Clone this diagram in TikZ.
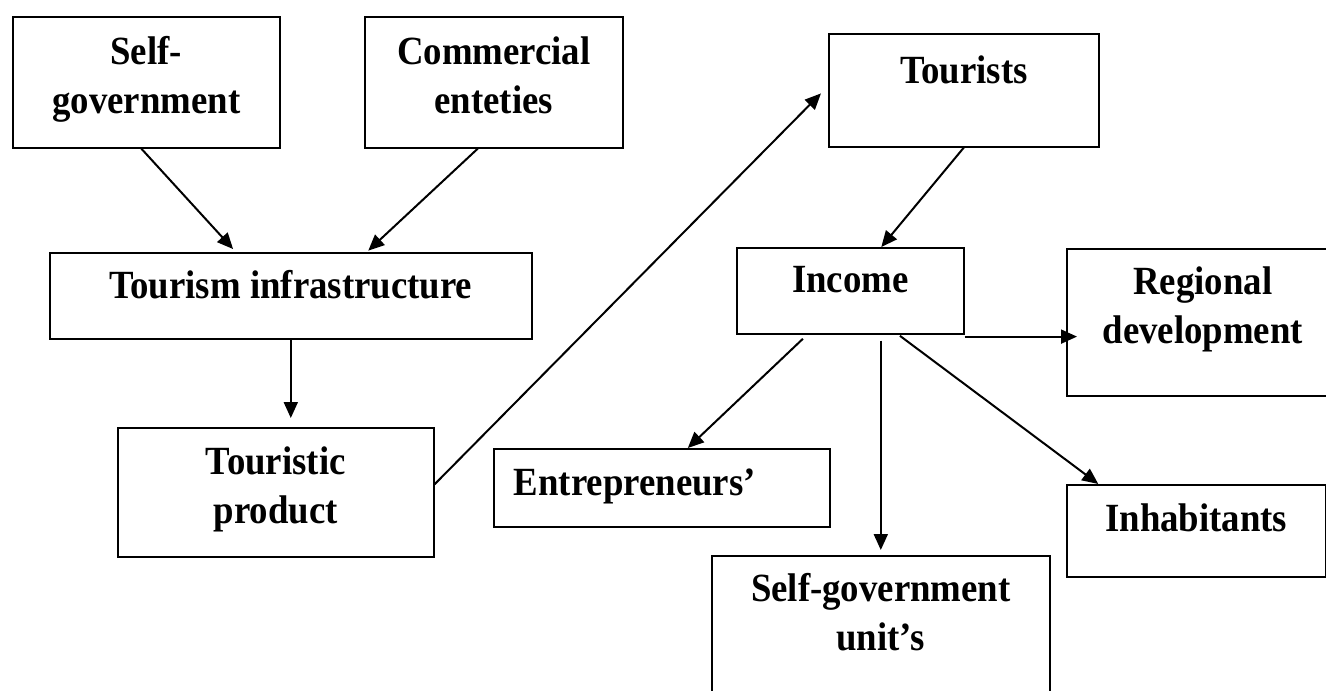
\documentclass[tikz,border=0pt]{standalone}
\usepackage{fontspec}
\setmainfont{Liberation Serif}[FakeStretch=0.92]
\usetikzlibrary{arrows.meta}

% box text: width, height, top pad, text
\newcommand{\cellbox}[4]{\parbox[c][#2pt][t]{#1pt}{\centering\vspace*{#3pt}#4}}

\begin{document}
\begin{tikzpicture}[x=1pt,y=-1pt]
%style for boxes
\tikzstyle{cell} = [rectangle, draw=black, line width=1.6pt, inner sep=0pt, anchor=north west, font=\fontsize{40}{49}\selectfont\bfseries]

%style for arrows
\tikzstyle{link} = [-{Triangle[length=16pt,width=14pt]}, line width=2pt]

\useasboundingbox (0,0) rectangle (1326,691);

%place nodes
\node[cell] (selfgov) at (12,16) {\cellbox{267}{131}{20}{Self-\\government}};

\node[cell] (commercial) at (364,16) {\cellbox{258}{131}{20}{Commercial\\enteties}};

\node[cell] (infra) at (49,252) {\cellbox{482}{86}{18}{Tourism infrastructure}};

\node[cell] (product) at (117,427) {\cellbox{316}{129}{19}{Touristic\\product}};

\node[cell] (tourists) at (828,33) {\cellbox{270}{113}{22}{Tourists}};

\node[cell] (income) at (736,247) {\cellbox{227}{86}{19}{Income}};

\node[cell] (regional) at (1066,248) {\cellbox{272}{147}{18}{Regional\\development}};

\node[cell] (entrep) at (493,448) {\cellbox{336}{78}{20}{\raggedright\hspace*{20pt}Entrepreneurs’}};

\node[cell] (units) at (711,555) {\cellbox{338}{150}{18}{Self-government\\unit’s}};

\node[cell] (inhab) at (1066,484) {\cellbox{259}{92}{19}{Inhabitants}};

%connectors
\draw[link, shorten >=4pt] ([xshift=-5pt]selfgov.south) -- ([xshift=-55pt]infra.north);
\draw[link, shorten >=2pt] ([xshift=-16pt]commercial.south) -- ([xshift=76pt]infra.north);

\draw[link, shorten >=9pt] (infra.south) -- (infra.south |- product.north);

\draw[link, shorten >=10pt] ([yshift=8pt]product.east) -- ([yshift=4pt]tourists.west);

\draw[link] (tourists.south) -- ([xshift=31pt]income.north);

\draw[link, shorten >=-11pt] ([yshift=-2pt]income.south east) -- ([yshift=-2pt]income.south east -| regional.west);

\draw[link, shorten <=6pt] ([xshift=-43pt]income.south) -- ([xshift=26pt]entrep.north);
\draw[link, shorten <=6pt, shorten >=5pt] (units.north |- income.south) -- (units.north);
\draw[link, shorten <=2pt] ([xshift=48pt]income.south) -- ([xshift=-98pt]inhab.north);
\end{tikzpicture}
\end{document}
